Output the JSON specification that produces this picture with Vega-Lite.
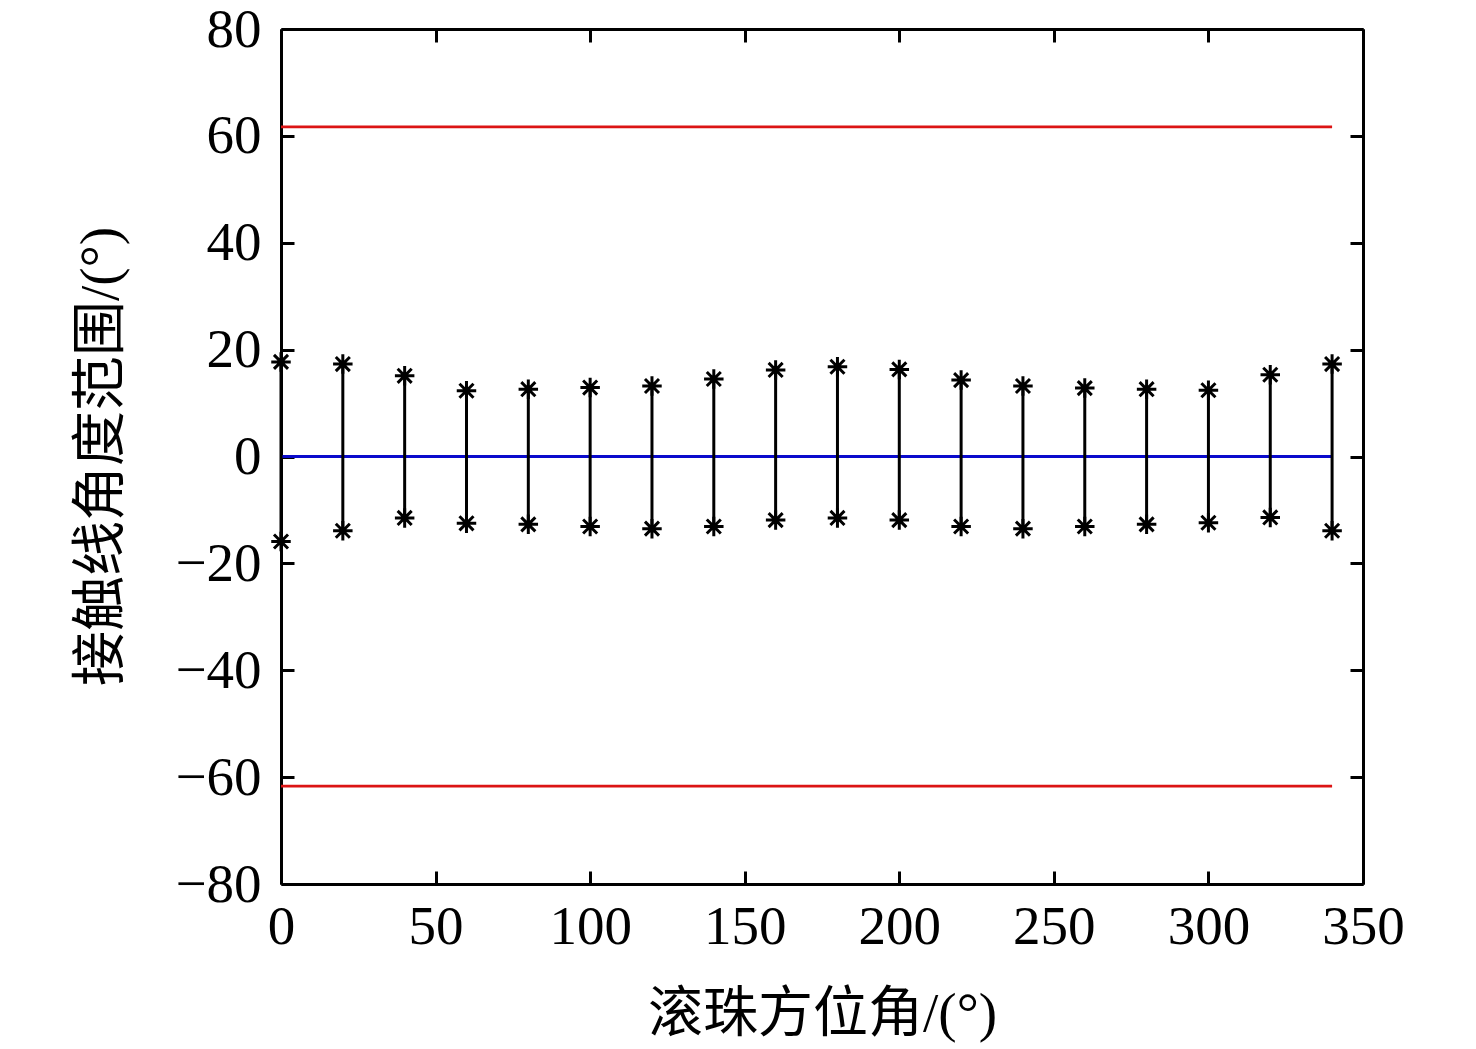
{
  "$schema": "https://vega.github.io/schema/vega-lite/v6.json",
  "width": 1082,
  "height": 855,
  "autosize": {"type": "none"},
  "padding": {"left": 281, "top": 29, "right": 113, "bottom": 165},
  "background": "white",
  "datasets": {
    "ranges": [
      {"angle": 0, "upper": 17.7, "lower": -15.9},
      {"angle": 20, "upper": 17.3, "lower": -13.9},
      {"angle": 40, "upper": 15.1, "lower": -11.5},
      {"angle": 60, "upper": 12.3, "lower": -12.5},
      {"angle": 80, "upper": 12.6, "lower": -12.7},
      {"angle": 100, "upper": 12.9, "lower": -13.1},
      {"angle": 120, "upper": 13.2, "lower": -13.5},
      {"angle": 140, "upper": 14.5, "lower": -13.1},
      {"angle": 160, "upper": 16.2, "lower": -11.9},
      {"angle": 180, "upper": 16.8, "lower": -11.5},
      {"angle": 200, "upper": 16.3, "lower": -11.9},
      {"angle": 220, "upper": 14.3, "lower": -13.1},
      {"angle": 240, "upper": 13.2, "lower": -13.5},
      {"angle": 260, "upper": 12.8, "lower": -13.1},
      {"angle": 280, "upper": 12.6, "lower": -12.7},
      {"angle": 300, "upper": 12.4, "lower": -12.4},
      {"angle": 320, "upper": 15.3, "lower": -11.4},
      {"angle": 340, "upper": 17.3, "lower": -13.9}
    ],
    "lines": [
      {"name": "upper limit", "start": 0, "end": 340, "value": 61.7},
      {"name": "lower limit", "start": 0, "end": 340, "value": -61.7},
      {"name": "zero", "start": 0, "end": 340, "value": 0}
    ]
  },
  "layer": [
    {
      "data": {"name": "lines"},
      "mark": {"type": "rule", "strokeWidth": 2.8},
      "encoding": {
        "x": {
          "field": "start", "type": "quantitative",
          "scale": {"domain": [0, 350], "nice": false, "zero": false},
          "axis": {"orient": "top", "labels": false, "title": null, "values": [0, 50, 100, 150, 200, 250, 300, 350]}
        },
        "x2": {"field": "end"},
        "y": {
          "field": "value", "type": "quantitative",
          "scale": {"domain": [-80, 80], "nice": false, "zero": false},
          "axis": {"orient": "right", "labels": false, "title": null, "values": [-80, -60, -40, -20, 0, 20, 40, 60, 80]}
        },
        "color": {
          "field": "name", "type": "nominal",
          "scale": {"domain": ["upper limit", "lower limit", "zero"], "range": ["#dc1414", "#dc1414", "#0a0acc"]},
          "legend": null
        }
      }
    },
    {
      "data": {"name": "ranges"},
      "mark": {"type": "rule", "color": "black", "strokeWidth": 3},
      "encoding": {
        "x": {
          "field": "angle", "type": "quantitative",
          "axis": {"orient": "bottom", "title": "滚珠方位角/(°)", "values": [0, 50, 100, 150, 200, 250, 300, 350]}
        },
        "y": {
          "field": "upper", "type": "quantitative",
          "axis": {"orient": "left", "title": "接触线角度范围/(°)", "values": [-80, -60, -40, -20, 0, 20, 40, 60, 80]}
        },
        "y2": {"field": "lower"}
      }
    },
    {
      "data": {"name": "ranges"},
      "mark": {"type": "point", "shape": "M-1,0L1,0M0,-1L0,1M-0.72,-0.72L0.72,0.72M-0.72,0.72L0.72,-0.72", "filled": false, "stroke": "black", "strokeWidth": 3, "size": 380, "opacity": 1},
      "encoding": {
        "x": {"field": "angle", "type": "quantitative", "axis": null},
        "y": {"field": "upper", "type": "quantitative", "axis": null}
      }
    },
    {
      "data": {"name": "ranges"},
      "mark": {"type": "point", "shape": "M-1,0L1,0M0,-1L0,1M-0.72,-0.72L0.72,0.72M-0.72,0.72L0.72,-0.72", "filled": false, "stroke": "black", "strokeWidth": 3, "size": 380, "opacity": 1},
      "encoding": {
        "x": {"field": "angle", "type": "quantitative", "axis": null},
        "y": {"field": "lower", "type": "quantitative", "axis": null}
      }
    }
  ],
  "resolve": {"axis": {"x": "independent", "y": "independent"}},
  "config": {
    "view": {"stroke": null},
    "font": "Liberation Serif",
    "axis": {
      "grid": false,
      "domainColor": "black",
      "domainWidth": 3,
      "tickColor": "black",
      "tickWidth": 3,
      "tickSize": -13,
      "labelFlush": false,
      "labelOverlap": false,
      "labelFont": "Liberation Serif",
      "labelFontSize": 55,
      "labelColor": "black",
      "titleFont": "Liberation Serif, Noto Sans CJK SC",
      "titleFontSize": 55,
      "titleFontWeight": "normal",
      "titleColor": "black"
    },
    "axisBottom": {"labelPadding": 29, "titleBaseline": "alphabetic", "titleY": 146},
    "axisLeft": {"labelPadding": 33, "titleX": -181, "titleY": 427, "titleBaseline": "middle", "titleAngle": -90}
  }
}
